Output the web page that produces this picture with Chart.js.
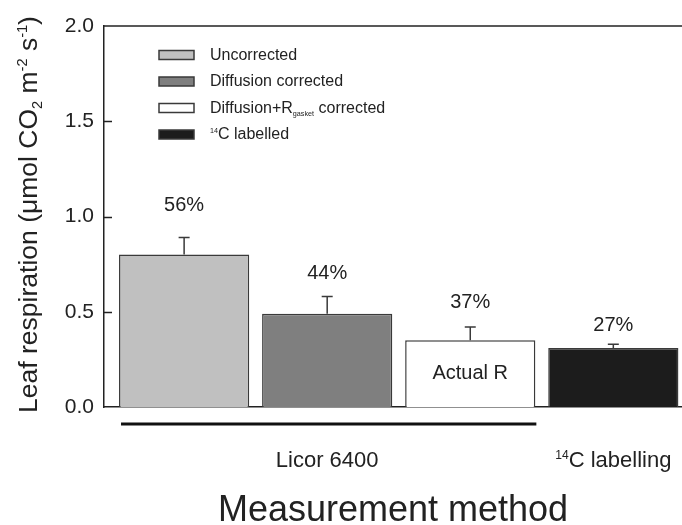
<!DOCTYPE html>
<html>
<head>
<meta charset="utf-8">
<script src="https://cdn.jsdelivr.net/npm/chart.js@4.4.1/dist/chart.umd.min.js"></script>
<style>
  html, body { margin: 0; padding: 0; background: #fff; }
  canvas { display: block; }
</style>
</head>
<body>
<canvas id="chart" width="682" height="525"></canvas>
<script>
// data
const methods = ['Uncorrected', 'Diffusion corrected', 'Diffusion+R_{gasket} corrected', '^{14}C labelled'];
const respiration = [0.80, 0.49, 0.35, 0.31];
const errors = [0.09, 0.09, 0.07, 0.02];
const percentLabels = ['56%', '44%', '37%', '27%'];
const percentAt = [1.06, 0.70, 0.55, 0.43];
const barNotes = ['', '', 'Actual R', ''];
const groupLabels = ['Licor 6400', '^{14}C labelling'];
const groupFirst = [0, 3];
const groupLast = [2, 3];
const groupUnderline = [true, false];

const barColors = ['#c0c0c0', '#7f7f7f', '#ffffff', '#1c1c1c'];
const FONT = "'Liberation Sans', Arial, Helvetica, sans-serif";
const INK = '#222';
const EDGE = '#3a3a3a';

// small helper for text with _{sub} and ^{sup} parts
function richParts(text) {
    return text.split(/(_\{[^}]*\}|\^\{[^}]*\})/).filter(s => s).map(s => {
        if (s[0] === '_') return { t: s.slice(2, -1), kind: 'sub' };
        if (s[0] === '^') return { t: s.slice(2, -1), kind: 'sup' };
        return { t: s, kind: 'base' };
    });
}

function drawRich(ctx, text, x, y, size, align, small) {
    const parts = richParts(text);
    const sc = small || 0.55;
    let total = 0;
    parts.forEach(p => {
        p.size = p.kind === 'base' ? size : size * sc;
        ctx.font = `${p.size}px ${FONT}`;
        p.w = ctx.measureText(p.t).width;
        total += p.w;
    });
    let cx = align === 'center' ? x - total / 2 : (align === 'right' ? x - total : x);
    ctx.textAlign = 'left';
    ctx.textBaseline = 'alphabetic';
    parts.forEach(p => {
        ctx.font = `${p.size}px ${FONT}`;
        let dy = 0;
        if (p.kind === 'sup') dy = -size * 0.38;
        if (p.kind === 'sub') dy = size * 0.2;
        ctx.fillText(p.t, cx, y + dy);
        cx += p.w;
    });
}

const extrasPlugin = {
    id: 'extras',
    afterDatasetsDraw(chart) {
        const ctx = chart.ctx;
        const area = chart.chartArea;
        const y = chart.scales.y;
        const bars = chart.getDatasetMeta(0).data;

        ctx.save();

        // top frame line
        ctx.strokeStyle = INK;
        ctx.lineWidth = 1.5;
        ctx.beginPath();
        ctx.moveTo(area.left, area.top);
        ctx.lineTo(area.right, area.top);
        ctx.stroke();

        // inward tick marks on the y axis
        y.ticks.forEach(t => {
            if (t.value <= y.min || t.value >= y.max) return;
            const py = Math.round(y.getPixelForValue(t.value)) + 0.5;
            ctx.beginPath();
            ctx.moveTo(area.left, py);
            ctx.lineTo(area.left + 8, py);
            ctx.stroke();
        });

        // error bars (upper only)
        ctx.strokeStyle = EDGE;
        ctx.lineWidth = 1.5;
        bars.forEach((bar, i) => {
            const top = y.getPixelForValue(respiration[i] + errors[i]);
            ctx.beginPath();
            ctx.moveTo(bar.x, bar.y);
            ctx.lineTo(bar.x, top);
            ctx.moveTo(bar.x - 5.5, top);
            ctx.lineTo(bar.x + 5.5, top);
            ctx.stroke();
        });

        // percent labels and note inside bar
        ctx.fillStyle = INK;
        ctx.textAlign = 'center';
        ctx.textBaseline = 'middle';
        ctx.font = `20px ${FONT}`;
        bars.forEach((bar, i) => {
            ctx.fillText(percentLabels[i], bar.x, y.getPixelForValue(percentAt[i]));
            if (barNotes[i]) {
                ctx.fillText(barNotes[i], bar.x, y.getPixelForValue(respiration[i] / 2));
            }
        });

        // group labels under the axis
        groupLabels.forEach((label, g) => {
            const a = bars[groupFirst[g]];
            const b = bars[groupLast[g]];
            const left = a.x - a.width / 2;
            const right = b.x + b.width / 2;
            if (groupUnderline[g]) {
                ctx.strokeStyle = '#111';
                ctx.lineWidth = 3;
                ctx.beginPath();
                ctx.moveTo(left + 2, area.bottom + 17);
                ctx.lineTo(right + 1, area.bottom + 17);
                ctx.stroke();
            }
            ctx.fillStyle = INK;
            drawRich(ctx, label, (left + right) / 2, area.bottom + 60, 22, 'center');
        });

        // legend
        methods.forEach((name, i) => {
            const cy = 55 + i * 26.5;
            ctx.fillStyle = barColors[i];
            ctx.fillRect(159, cy - 4.5, 35, 9);
            ctx.strokeStyle = EDGE;
            ctx.lineWidth = 1.5;
            ctx.strokeRect(159, cy - 4.5, 35, 9);
            ctx.fillStyle = INK;
            drawRich(ctx, name, 210, cy + 4.5, 16, 'left', 0.45);
        });

        // y axis title
        ctx.translate(37, (area.top + area.bottom) / 2 - 2);
        ctx.rotate(-Math.PI / 2);
        ctx.fillStyle = INK;
        drawRich(ctx, 'Leaf respiration (\u03bcmol CO_{2} m^{-2} s^{-1})', 0, 0, 26.5, 'center');

        ctx.restore();
    }
};

new Chart(document.getElementById('chart'), {
    type: 'bar',
    data: {
        datasets: [{
            data: respiration.map((v, i) => ({ x: i, y: v })),
            backgroundColor: barColors,
            borderColor: EDGE,
            borderWidth: 1.5,
            barPercentage: 0.91,
            categoryPercentage: 1.0,
        }],
    },
    options: {
        responsive: false,
        animation: false,
        events: [],
        layout: { padding: { top: 26, right: 0, bottom: 0, left: 0 } },
        plugins: {
            legend: { display: false },
            tooltip: { enabled: false },
        },
        scales: {
            x: {
                type: 'linear',
                offset: false,
                min: -0.56,
                max: 3.48,
                afterBuildTicks: (s) => { s.ticks = respiration.map((_, i) => ({ value: i })); },
                afterFit: (s) => { s.height = 118; },
                ticks: { display: false },
                grid: { display: false, offset: false },
                border: { display: true, color: INK, width: 1.5 },
                title: {
                    display: true,
                    text: 'Measurement method',
                    color: INK,
                    font: { family: FONT, size: 36, lineHeight: 0.8 },
                    padding: 0,
                },
            },
            y: {
                min: 0,
                max: 2,
                afterFit: (s) => { s.width = 104; },
                ticks: {
                    stepSize: 0.5,
                    padding: 2,
                    color: INK,
                    font: { family: FONT, size: 21 },
                    callback: (v) => v.toFixed(1),
                },
                grid: { display: false },
                border: { display: true, color: INK, width: 1.5 },
            },
        },
    },
    plugins: [extrasPlugin],
});
</script>
</body>
</html>
